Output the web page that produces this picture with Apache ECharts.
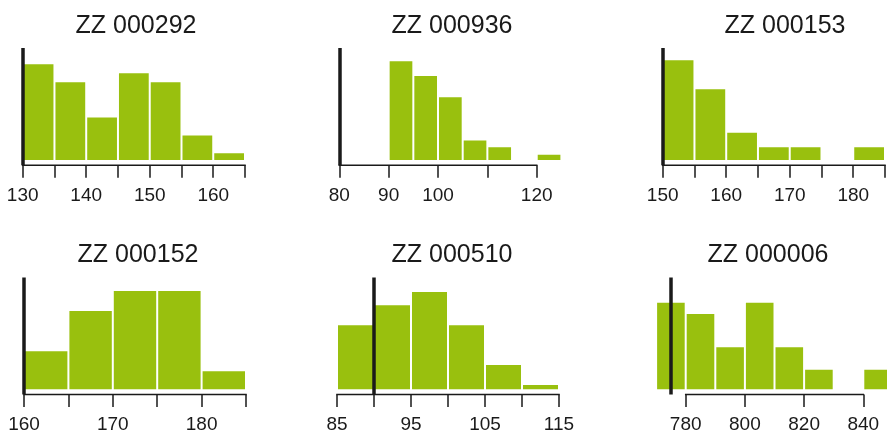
<!DOCTYPE html>
<html>
<head>
<meta charset="utf-8">
<script src="https://cdn.jsdelivr.net/npm/echarts@6/dist/echarts.min.js"></script>
<style>
html,body{margin:0;padding:0;background:#fff;}
#c{width:887px;height:434px;}
</style>
</head>
<body>
<div id="c"></div>
<script>
// ---- data ----
const titles = ["ZZ 000292", "ZZ 000936", "ZZ 000153", "ZZ 000152", "ZZ 000510", "ZZ 000006"];
const binStart = [130, 90, 150, 160, 85, 770];
const binWidth = [5, 5, 5, 5, 5, 10];
const freq1 = [96, 78, 42.6, 87, 78, 24.6, 6.6];
const freq2 = [99, 84.3, 63, 19.6, 12.6, 0, 5.3];
const freq3 = [100, 71, 27.3, 12.6, 12.6, 0, 12.6];
const freq4 = [38, 78.3, 98.3, 98.3, 18];
const freq5 = [64, 84, 97.3, 64, 24.3, 4.3];
const freq6 = [86.6, 75.3, 42, 86.6, 42, 19.6, 0, 19.6];
const freqs = [freq1, freq2, freq3, freq4, freq5, freq6];
const refValue = [130, 80, 150, 160, 90, 775];
const ticks1 = [130, 135, 140, 145, 150, 155, 160, 165];
const ticks2 = [80, 90, 100, 110, 120];
const ticks3 = [150, 155, 160, 165, 170, 175, 180, 185];
const ticks4 = [160, 165, 170, 175, 180, 185];
const ticks5 = [85, 90, 95, 100, 105, 110, 115];
const ticks6 = [780, 800, 820, 840];
const labels1 = [130, 140, 150, 160];
const labels2 = [80, 90, 100, 120];
const labels3 = [150, 160, 170, 180];
const labels4 = [160, 170, 180];
const labels5 = [85, 95, 105, 115];
const labels6 = [780, 800, 820, 840];
const ticks = [ticks1, ticks2, ticks3, ticks4, ticks5, ticks6];
const labels = [labels1, labels2, labels3, labels4, labels5, labels6];
const xRange = [[130, 165], [80, 125], [150, 185], [160, 185], [85, 115], [770, 850]];

// ---- layout ----
const gridLeft = [22.7, 339.3, 662.7, 24, 337, 656.1];
const gridWidth = [222.3, 222.1, 222.3, 222, 222, 236.8];
const rowTop = [48, 277.5];
const rowHeight = [117.3, 117];
const yMin = [-5.4, -5.2];
const yMax = [112.3, 111.8];
const titleX = [136, 452, 785, 138, 452, 768];
const titleY = [8.5, 238];

const BAR = '#99c00e';
const INK = '#1a1a1a';

const grids = [], xAxes = [], yAxes = [], series = [], titleArr = [];
for (let i = 0; i < 6; i++) {
  const row = i < 3 ? 0 : 1;
  grids.push({left: gridLeft[i], top: rowTop[row], width: gridWidth[i], height: rowHeight[row],
    containLabel: false, outerBoundsMode: 'none'});
  xAxes.push({
    type: 'value', gridIndex: i, min: xRange[i][0], max: xRange[i][1],
    splitLine: {show: false},
    axisLine: {show: false, onZero: false},
    axisTick: {show: true, customValues: ticks[i], length: 12.5, lineStyle: {color: INK, width: 1.5}},
    axisLabel: {show: true, customValues: labels[i], margin: 21, color: INK,
      fontSize: 19, fontFamily: 'Liberation Sans, Arial, sans-serif',
      showMinLabel: true, showMaxLabel: true}
  });
  yAxes.push({type: 'value', gridIndex: i, min: yMin[row], max: yMax[row], show: false});
  const data = freqs[i].map((v, k) => [binStart[i] + k * binWidth[i], binStart[i] + (k + 1) * binWidth[i], v]);
  series.push({
    type: 'custom', xAxisIndex: i, yAxisIndex: i, data: data, clip: true,
    renderItem: function (params, api) {
      const a = api.coord([api.value(0), 0]);
      const b = api.coord([api.value(1), api.value(2)]);
      if (api.value(2) <= 0) return null;
      return {type: 'rect', shape: {x: a[0] + 1, y: b[1], width: b[0] - a[0] - 2, height: a[1] - b[1]},
        style: {fill: BAR}};
    },
    markLine: {
      silent: true, symbol: ['none', 'none'], label: {show: false},
      lineStyle: {color: INK, width: 3.5, type: 'solid'},
      data: [{xAxis: refValue[i]}]
    },
    z: 2
  });
  // axis baseline from first to last tick
  series.push({
    type: 'custom', xAxisIndex: i, yAxisIndex: i, clip: false,
    data: [[ticks[i][0], ticks[i][ticks[i].length - 1], yMin[row]]],
    renderItem: function (params, api) {
      const a = api.coord([api.value(0), api.value(2)]);
      const b = api.coord([api.value(1), api.value(2)]);
      return {type: 'line', shape: {x1: a[0] - 0.75, y1: a[1], x2: b[0] + 0.75, y2: b[1]},
        style: {stroke: INK, lineWidth: 1.5}};
    },
    z: 3
  });
  titleArr.push({text: titles[i], left: titleX[i] - 5, top: titleY[row], textAlign: 'center',
    textStyle: {fontSize: 25, fontWeight: 'normal', color: INK, fontFamily: 'Liberation Sans, Arial, sans-serif'}});
}

const chart = echarts.init(document.getElementById('c'), null, {renderer: 'canvas'});
chart.setOption({
  animation: false,
  backgroundColor: '#fff',
  title: titleArr,
  grid: grids, xAxis: xAxes, yAxis: yAxes, series: series
});
</script>
</body>
</html>
